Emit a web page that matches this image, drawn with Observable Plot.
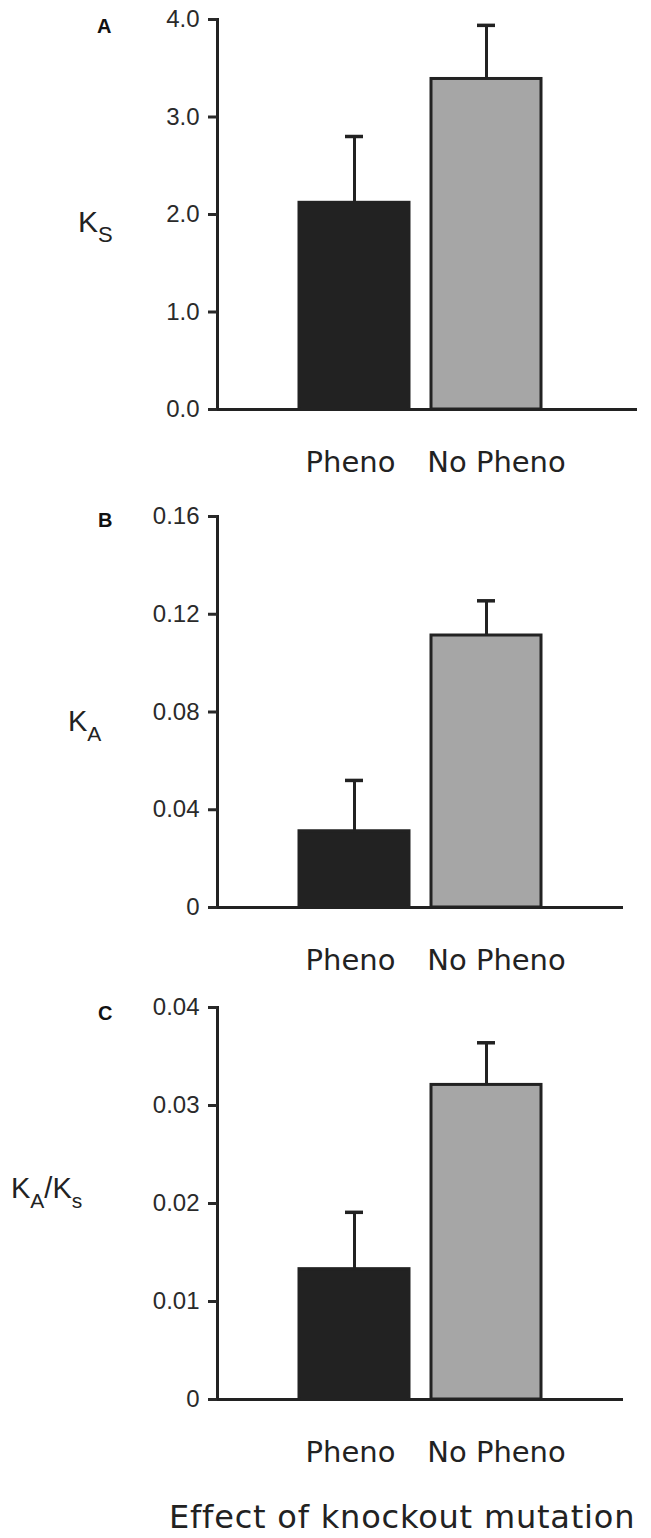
<!DOCTYPE html>
<html>
<head>
<meta charset="utf-8">
<script src="https://cdn.jsdelivr.net/npm/d3@7"></script>
<script src="https://cdn.jsdelivr.net/npm/@observablehq/plot@0.6"></script>
<style>
  html, body { margin: 0; padding: 0; background: #fff; overflow: hidden; }
  #wrap { position: relative; width: 651px; height: 1538px; overflow: hidden; }
  .panel { position: absolute; left: 0; }
  .ytitle { position: absolute; font-family: "Liberation Sans", Arial, sans-serif; color: #222; line-height: 1; white-space: nowrap; }
  .ytitle .sub { position: relative; top: 10px; }
  .letter { position: absolute; font-family: "Liberation Sans", Arial, sans-serif; font-weight: bold; font-size: 20px; color: #111; line-height: 1; }
  #xtitle { position: absolute; left: 169px; top: 1501px; font-family: "DejaVu Sans", Verdana, sans-serif; font-size: 32px; letter-spacing: 0.8px; color: #222; line-height: 1; white-space: nowrap; }
</style>
</head>
<body>
<div id="wrap"></div>
<script>
// ---- data ----
const categories = ["Pheno", "No Pheno"];
const barFills = ["#222222", "#a6a6a6"];

const ksMean = [2.12, 3.39];
const ksErr = [0.68, 0.55];
const ksTicks = [0, 1, 2, 3, 4];
const ksTickLabels = ["0.0", "1.0", "2.0", "3.0", "4.0"];

const kaMean = [0.0312, 0.1113];
const kaErr = [0.0208, 0.0142];
const kaTicks = [0, 0.04, 0.08, 0.12, 0.16];
const kaTickLabels = ["0", "0.04", "0.08", "0.12", "0.16"];

const ratioMean = [0.0133, 0.0321];
const ratioErr = [0.0058, 0.0043];
const ratioTicks = [0, 0.01, 0.02, 0.03, 0.04];
const ratioTickLabels = ["0", "0.01", "0.02", "0.03", "0.04"];

const panelLetters = ["A", "B", "C"];
const xTitle = "Effect of knockout mutation";

// ---- drawing ----
const ink = "#222";
const W = 651;

function panel({mean, err, ticks, labels, height, marginTop, marginBottom, marginRight}) {
  const data = categories.map((c, i) => ({cat: c, v: mean[i], hi: mean[i] + err[i]}));
  const fmt = d => labels[ticks.indexOf(d)];
  const xLab = {tickSize: 0, tickPadding: 42, fontSize: 29, fontFamily: "DejaVu Sans, Verdana, sans-serif", color: ink, label: null};
  return Plot.plot({
    width: W, height,
    marginLeft: 217, marginRight, marginTop, marginBottom,
    style: {background: "transparent", color: ink, overflow: "visible"},
    x: {type: "band", domain: categories, range: [298.5, 540.5], paddingInner: 0.1667, paddingOuter: 0, axis: null},
    y: {domain: [ticks[0], ticks[ticks.length - 1]], axis: null},
    color: {domain: categories, range: barFills},
    marks: [
      Plot.ruleX(data, {x: "cat", y1: "v", y2: "hi", stroke: ink, strokeWidth: 3}),
      Plot.tickY(data, {x: "cat", y: "hi", insetLeft: 46, insetRight: 46, stroke: ink, strokeWidth: 3.5}),
      Plot.barY(data, {x: "cat", y: "v", fill: "cat", stroke: ink, strokeWidth: 3}),
      Plot.frame({anchor: "left", stroke: ink, strokeWidth: 3}),
      Plot.ruleY([0], {stroke: ink, strokeWidth: 3}),
      Plot.axisY(ticks, {tickFormat: fmt, tickSize: 9, tickPadding: 9, strokeWidth: 3, fontSize: 24,
        fontFamily: "Liberation Sans, Arial, sans-serif", color: "#2a2a2a", label: null}),
      Plot.axisX(["Pheno"], {...xLab, dx: -4}),
      Plot.axisX(["No Pheno"], {...xLab, dx: 10})
    ]
  });
}

const wrap = document.getElementById("wrap");
const specs = [
  {top: 0, mean: ksMean, err: ksErr, ticks: ksTicks, labels: ksTickLabels, height: 490, marginTop: 19, marginBottom: 81, marginRight: 14},
  {top: 490, mean: kaMean, err: kaErr, ticks: kaTicks, labels: kaTickLabels, height: 490, marginTop: 26, marginBottom: 73, marginRight: 28},
  {top: 980, mean: ratioMean, err: ratioErr, ticks: ratioTicks, labels: ratioTickLabels, height: 480, marginTop: 27, marginBottom: 61, marginRight: 28}
];
specs.forEach(s => {
  const d = document.createElement("div");
  d.className = "panel";
  d.style.top = s.top + "px";
  d.appendChild(panel(s));
  wrap.appendChild(d);
});

// panel letters
[[97, 16], [98, 510], [98, 1003]].forEach(([x, y], i) => {
  const el = document.createElement("div");
  el.className = "letter";
  el.style.left = x + "px"; el.style.top = y + "px";
  el.textContent = panelLetters[i];
  wrap.appendChild(el);
});

// y titles with subscripts
function ytitle(html, left, top, size) {
  const el = document.createElement("div");
  el.className = "ytitle";
  el.style.left = left + "px"; el.style.top = top + "px"; el.style.fontSize = size + "px";
  el.innerHTML = html;
  wrap.appendChild(el);
}
ytitle('K<span class="sub" style="font-size:22px">S</span>', 78, 207, 30);
ytitle('K<span class="sub" style="font-size:21px">A</span>', 68, 707, 29);
ytitle('K<span class="sub" style="font-size:21px">A</span>/K<span class="sub" style="font-size:21px">s</span>', 11, 1174, 29);

const xt = document.createElement("div");
xt.id = "xtitle";
xt.textContent = xTitle;
wrap.appendChild(xt);
</script>
</body>
</html>
